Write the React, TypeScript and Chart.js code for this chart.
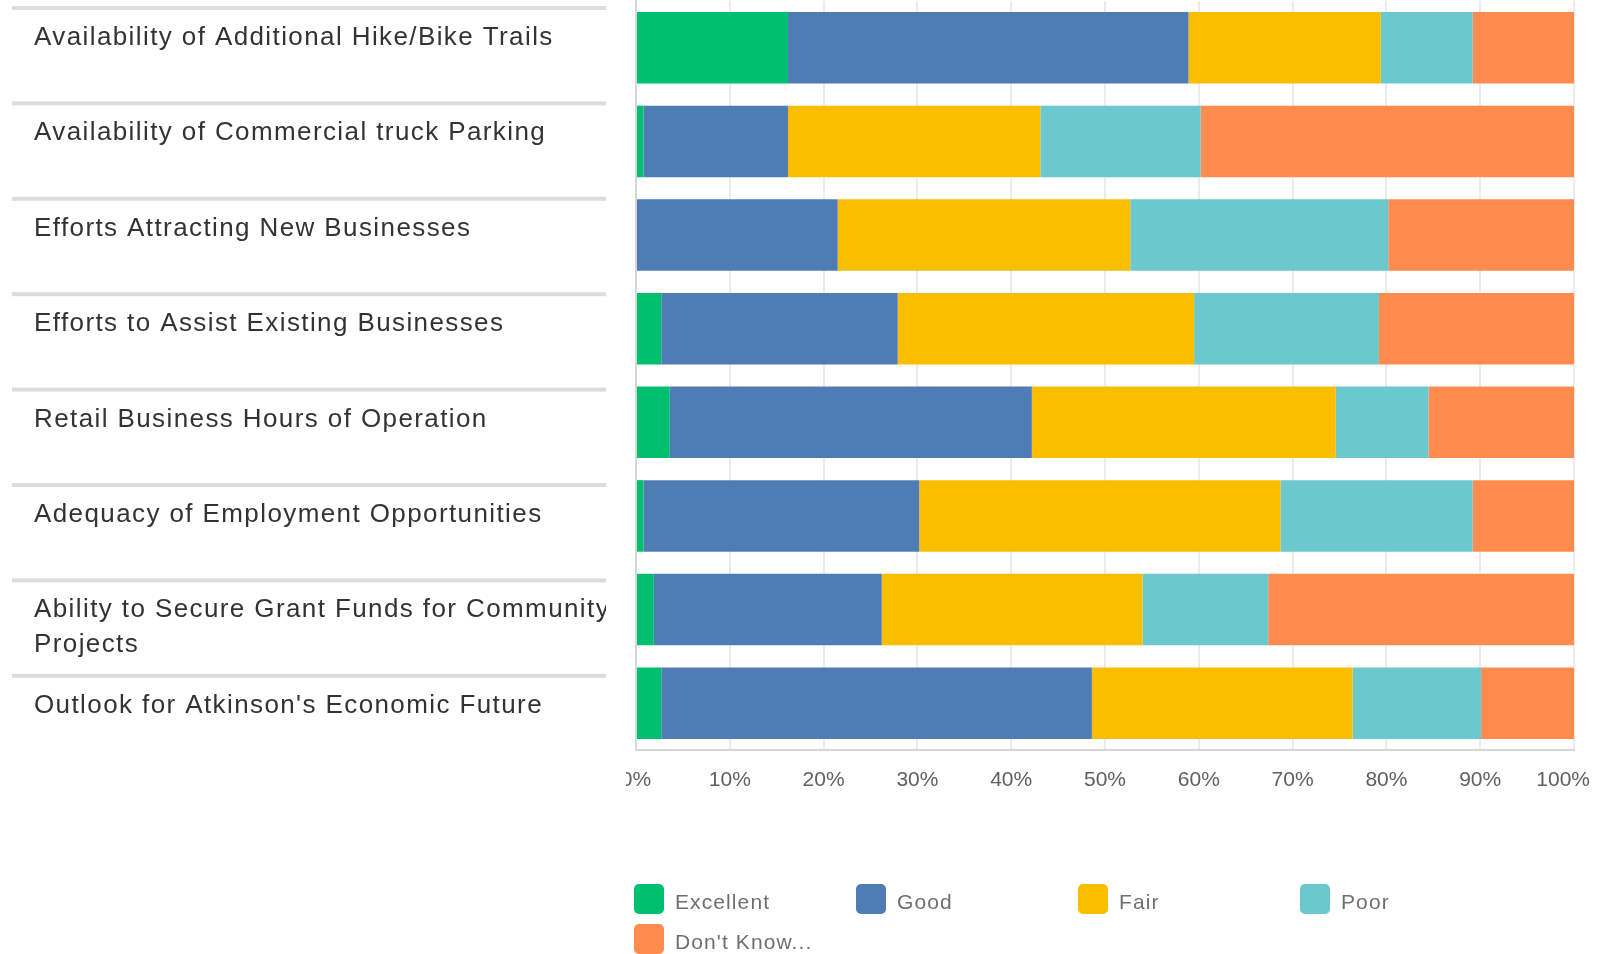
import React, { useEffect, useRef } from "react";
import { Chart, registerables } from "chart.js";

Chart.register(...registerables);

// ---- data ----
const categories: string[][] = [
  ["Availability of Additional Hike/Bike Trails"],
  ["Availability of Commercial truck Parking"],
  ["Efforts Attracting New Businesses"],
  ["Efforts to Assist Existing Businesses"],
  ["Retail Business Hours of Operation"],
  ["Adequacy of Employment Opportunities"],
  ["Ability to Secure Grant Funds for Community", "Projects"],
  ["Outlook for Atkinson's Economic Future"],
];
const seriesNames = ["Excellent", "Good", "Fair", "Poor", "Don't Know..."];
const excellent = [16.2, 0.8, 0, 2.7, 3.6, 0.8, 1.9, 2.7];
const good = [42.7, 15.4, 21.5, 25.2, 38.6, 29.4, 24.3, 45.9];
const fair = [20.5, 26.9, 31.2, 31.6, 32.4, 38.5, 27.8, 27.8];
const poor = [9.8, 17.1, 27.5, 19.7, 9.9, 20.5, 13.4, 13.7];
const dontKnow = [10.8, 39.8, 19.8, 20.8, 15.5, 10.8, 32.6, 9.9];
const xTickLabels = ["0%", "10%", "20%", "30%", "40%", "50%", "60%", "70%", "80%", "90%", "100%"];

const seriesColors = ["#00BF6F", "#507CB6", "#F9BE00", "#6BC8CD", "#FF8B4F"];

const W = 1598;
const H = 954;

const overlayPlugin = {
  id: "overlay",
  afterDraw(chart: any) {
    const ctx: CanvasRenderingContext2D = chart.ctx;
    const labels: string[][] = chart.data.labels;

    // ---- left label table ----
    ctx.save();
    ctx.beginPath();
    ctx.rect(0, 0, 606, 760);
    ctx.clip();
    const sepTop = 8;
    const pitch = 95.4;
    ctx.font = '26px "Liberation Sans", Arial, sans-serif';
    (ctx as any).letterSpacing = "1.4px";
    ctx.textAlign = "left";
    ctx.textBaseline = "alphabetic";
    labels.forEach((lines, i) => {
      const y = sepTop + i * pitch;
      ctx.fillStyle = "#dadcdd";
      ctx.fillRect(12, y - 2, 594, 4);
      ctx.fillStyle = "#333333";
      lines.forEach((line, j) => {
        ctx.fillText(line, 34, y + 37 + j * 35);
      });
    });
    ctx.restore();

    // ---- x tick labels ----
    const xs = chart.scales.x;
    ctx.save();
    ctx.beginPath();
    ctx.rect(626, 755, W - 626, 60);
    ctx.clip();
    ctx.font = '21px "Liberation Sans", Arial, sans-serif';
    ctx.fillStyle = "#606060";
    ctx.textAlign = "center";
    ctx.textBaseline = "middle";
    xTickLabels.forEach((t, i) => {
      let x = xs.getPixelForValue(i * 10);
      const w = ctx.measureText(t).width;
      if (x + w / 2 > 1590) x = 1590 - w / 2;
      ctx.fillText(t, x, 780);
    });
    ctx.restore();

    // ---- legend ----
    ctx.save();
    ctx.font = '21px "Liberation Sans", Arial, sans-serif';
    (ctx as any).letterSpacing = "1.1px";
    ctx.textAlign = "left";
    ctx.textBaseline = "alphabetic";
    chart.data.datasets.forEach((ds: any, i: number) => {
      const col = i % 4;
      const row = Math.floor(i / 4);
      const bx = 634 + col * 222;
      const by = 884 + row * 40;
      ctx.fillStyle = ds.backgroundColor;
      ctx.beginPath();
      (ctx as any).roundRect(bx, by, 30, 30, 5);
      ctx.fill();
      ctx.fillStyle = "#6f6f6f";
      ctx.fillText(ds.label, bx + 41, by + 25);
    });
    ctx.restore();
  },
};

export default function App() {
  const ref = useRef<HTMLCanvasElement>(null);
  useEffect(() => {
    document.body.style.margin = "0";
    document.body.style.background = "#ffffff";
    const canvas = ref.current!;
    const seriesData = [excellent, good, fair, poor, dontKnow];
    const chart = new Chart(canvas, {
      type: "bar",
      data: {
        labels: categories as any,
        datasets: seriesData.map((d, i) => ({
          label: seriesNames[i],
          data: d,
          backgroundColor: seriesColors[i],
          borderWidth: 0,
          barPercentage: 0.765,
          categoryPercentage: 1,
        })),
      },
      options: {
        indexAxis: "y",
        responsive: false,
        animation: false,
        layout: { padding: { left: 636, right: 24, top: 1, bottom: 204 } },
        scales: {
          x: {
            stacked: true,
            min: 0,
            max: 100,
            ticks: { display: false, stepSize: 10 },
            grid: { color: "#ebebeb", lineWidth: 2, drawTicks: false },
            border: { color: "#d6d6d6", width: 2 },
          },
          y: {
            stacked: true,
            ticks: { display: false },
            grid: { display: false, drawTicks: false },
            border: { color: "#d6d6d6", width: 2 },
          },
        },
        plugins: {
          legend: { display: false },
          tooltip: { enabled: false },
        },
      },
      plugins: [overlayPlugin],
    });
    return () => chart.destroy();
  }, []);
  return (
    <div style={{ width: W, height: H, overflow: "hidden", background: "#fff" }}>
      <canvas ref={ref} width={W} height={H} style={{ display: "block", width: W, height: H }} />
    </div>
  );
}
